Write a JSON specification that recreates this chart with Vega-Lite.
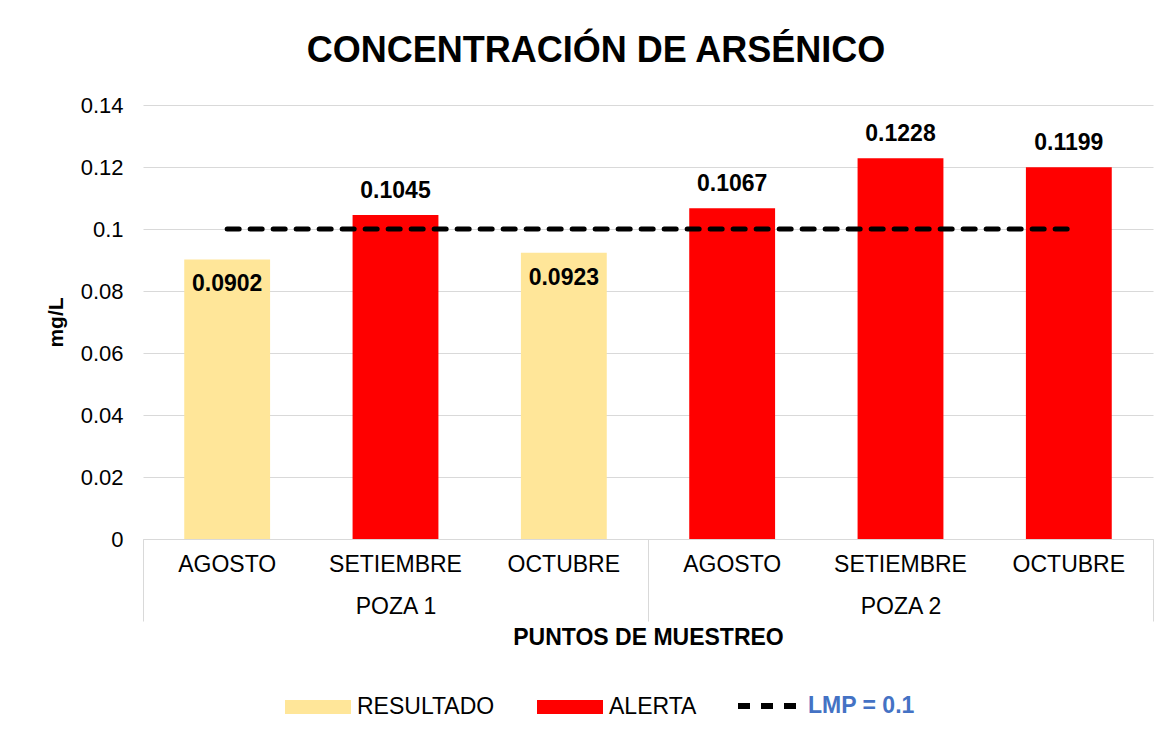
{
  "$schema": "https://vega.github.io/schema/vega-lite/v6.json",
  "width": 1010,
  "height": 434,
  "autosize": "none",
  "padding": {"left": 143, "top": 105, "right": 15, "bottom": 194},
  "background": "white",
  "config": {
    "font": "Liberation Sans",
    "view": {"stroke": null}
  },
  "title": {
    "text": "CONCENTRACIÓN DE ARSÉNICO",
    "fontSize": 36,
    "fontWeight": "bold",
    "color": "black",
    "anchor": "middle",
    "dx": -52,
    "offset": 24
  },
  "datasets": {
    "valores": [
      {"punto": "POZA 1", "mes": "AGOSTO", "clave": "POZA 1|AGOSTO", "valor": 0.0902, "estado": "RESULTADO"},
      {"punto": "POZA 1", "mes": "SETIEMBRE", "clave": "POZA 1|SETIEMBRE", "valor": 0.1045, "estado": "ALERTA"},
      {"punto": "POZA 1", "mes": "OCTUBRE", "clave": "POZA 1|OCTUBRE", "valor": 0.0923, "estado": "RESULTADO"},
      {"punto": "POZA 2", "mes": "AGOSTO", "clave": "POZA 2|AGOSTO", "valor": 0.1067, "estado": "ALERTA"},
      {"punto": "POZA 2", "mes": "SETIEMBRE", "clave": "POZA 2|SETIEMBRE", "valor": 0.1228, "estado": "ALERTA"},
      {"punto": "POZA 2", "mes": "OCTUBRE", "clave": "POZA 2|OCTUBRE", "valor": 0.1199, "estado": "ALERTA"}
    ],
    "limite": [
      {"desde": "POZA 1|AGOSTO", "hasta": "POZA 2|OCTUBRE", "lmp": 0.1, "serie": "LMP = 0.1"}
    ]
  },
  "layer": [
    {
      "layer": [
        {
          "data": {"name": "valores"},
          "mark": {"type": "bar"},
          "encoding": {
            "x": {
              "field": "clave",
              "type": "nominal",
              "sort": null,
              "scale": {
                "domain": ["POZA 1|AGOSTO", "POZA 1|SETIEMBRE", "POZA 1|OCTUBRE", "POZA 2|AGOSTO", "POZA 2|SETIEMBRE", "POZA 2|OCTUBRE"],
                "paddingInner": 0.49,
                "paddingOuter": 0.245
              },
              "axis": {
                "orient": "bottom",
                "title": null,
                "labelExpr": "split(datum.value, '|')[1]",
                "labelAngle": 0,
                "labelFontSize": 23,
                "labelColor": "black",
                "labelPadding": 14,
                "ticks": false,
                "domain": true,
                "domainColor": "#D9D9D9",
                "domainWidth": 1,
                "grid": false
              }
            },
            "y": {
              "field": "valor",
              "type": "quantitative",
              "scale": {"domain": [0, 0.14], "nice": false},
              "axis": {
                "title": "mg/L",
                "titleFontSize": 21,
                "titleFontWeight": "bold",
                "titleColor": "black",
                "titlePadding": 14,
                "values": [0, 0.02, 0.04, 0.06, 0.08, 0.1, 0.12, 0.14],
                "format": "~g",
                "labelFontSize": 22,
                "labelColor": "black",
                "labelPadding": 20,
                "ticks": false,
                "domain": false,
                "grid": true,
                "gridColor": "#D9D9D9",
                "gridWidth": 1
              }
            },
            "color": {
              "field": "estado",
              "type": "nominal",
              "scale": {"domain": ["RESULTADO", "ALERTA"], "range": ["#FFE699", "#FF0000"]},
              "legend": {
                "orient": "none",
                "direction": "horizontal",
                "legendX": 142,
                "legendY": 569,
                "title": null,
                "symbolType": "M-1,-0.212H1V0.212H-1Z",
                "symbolSize": 4356,
                "symbolStrokeWidth": 0,
                "symbolOpacity": 1,
                "labelFontSize": 23,
                "labelColor": "black",
                "labelOffset": 6,
                "columnPadding": 42
              }
            }
          }
        },
        {
          "data": {"name": "valores"},
          "transform": [{"filter": "datum.estado == 'ALERTA'"}],
          "mark": {"type": "text", "dy": -24, "fontSize": 23, "fontWeight": "bold", "color": "black", "baseline": "middle"},
          "encoding": {
            "x": {"field": "clave", "type": "nominal", "sort": null},
            "y": {"field": "valor", "type": "quantitative"},
            "text": {"field": "valor", "type": "quantitative", "format": ".4f"}
          }
        },
        {
          "data": {"name": "valores"},
          "transform": [{"filter": "datum.estado == 'RESULTADO'"}],
          "mark": {"type": "text", "dy": 25, "fontSize": 23, "fontWeight": "bold", "color": "black", "baseline": "middle"},
          "encoding": {
            "x": {"field": "clave", "type": "nominal", "sort": null},
            "y": {"field": "valor", "type": "quantitative"},
            "text": {"field": "valor", "type": "quantitative", "format": ".4f"}
          }
        },
        {
          "data": {"name": "limite"},
          "mark": {"type": "rule", "strokeWidth": 5, "strokeCap": "round", "color": "black"},
          "encoding": {
            "x": {"field": "desde", "type": "nominal", "sort": null},
            "x2": {"field": "hasta"},
            "y": {"field": "lmp", "type": "quantitative"},
            "strokeDash": {
              "field": "serie",
              "type": "nominal",
              "scale": {"domain": ["LMP = 0.1"], "range": [[12, 11]]},
              "legend": {
                "orient": "none",
                "direction": "horizontal",
                "legendX": 592,
                "legendY": 567,
                "title": null,
                "symbolType": "stroke",
                "symbolSize": 3844,
                "symbolStrokeWidth": 6,
                "symbolStrokeColor": "black",
                "labelFontSize": 23,
                "labelFontWeight": "bold",
                "labelColor": "#4472C4",
                "labelOffset": 5
              }
            }
          }
        }
      ]
    },
    {
      "data": {"name": "valores"},
      "mark": {"type": "text", "opacity": 0},
      "encoding": {
        "x": {
          "field": "punto",
          "type": "nominal",
          "scale": {"paddingInner": 0, "paddingOuter": 0},
          "axis": {
            "orient": "bottom",
            "title": "PUNTOS DE MUESTREO",
            "titleFontSize": 23,
            "titleFontWeight": "bold",
            "titleColor": "black",
            "titlePadding": 5,
            "labelAngle": 0,
            "labelFontSize": 23,
            "labelColor": "black",
            "labelPadding": -26,
            "domain": false,
            "ticks": true,
            "tickBand": "extent",
            "tickSize": 82,
            "tickColor": "#D9D9D9",
            "tickWidth": 1,
            "grid": false
          }
        }
      }
    }
  ],
  "resolve": {"scale": {"x": "independent"}}
}
